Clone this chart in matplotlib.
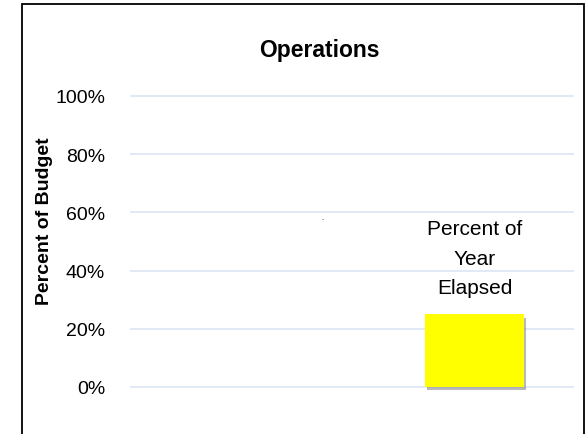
import matplotlib.pyplot as plt
import matplotlib.patheffects as pe
from matplotlib.patches import Rectangle
from matplotlib.ticker import PercentFormatter

categories = ["Budget Spent", "Percent of Year Elapsed"]
values = [0.0, 0.25]
y_ticks = [0, 0.2, 0.4, 0.6, 0.8, 1.0]
bar_label = "Percent of\nYear\nElapsed"

plt.rcParams['font.family'] = ['Liberation Sans', 'DejaVu Sans']

fig = plt.figure(figsize=(5.86, 4.35), dpi=100)
ax = fig.add_axes([131 / 586, 1 - 388 / 435, (573 - 131) / 586, (388 - 97) / 435])

x = [0, 1]
bars = ax.bar(x, values, width=0.653, color="#ffff00", zorder=3, clip_on=False)
for b in bars:
    b.set_path_effects([pe.SimplePatchShadow(offset=(1.5, -2.5), shadow_rgbFace="#7f7f7f", alpha=0.55),
                        pe.Normal()])

ax.set_xlim(-1.267, 1.65)
ax.set_ylim(0, 1)
ax.set_yticks(y_ticks)
ax.yaxis.set_major_formatter(PercentFormatter(1.0, decimals=0))
ax.tick_params(axis='y', length=0, pad=18.7, labelsize=14)
ax.set_xticks([])
for s in ax.spines.values():
    s.set_visible(False)
ax.grid(axis='y', color="#dae5f3", linewidth=1.2)
ax.set_axisbelow(True)
for gl in ax.get_ygridlines():
    gl.set_clip_on(False)

ax.text(1, 0.443, bar_label, ha='center', va='center', fontsize=15, linespacing=1.71)
ax.text(0, 0.57, "`", ha='center', va='center', fontsize=5)

fig.text(319 / 586, 1 - 50 / 435, "Operations", ha='center', va='center',
         fontsize=16.5, fontweight='bold')
fig.text(45 / 586, 1 - 221 / 435, "Percent of Budget", ha='center', va='center',
         rotation=90, fontsize=14, fontweight='bold')

fig.patches.append(Rectangle((22 / 586, -0.05), (584 - 22) / 586, 1.05 - 5 / 435,
                             transform=fig.transFigure, fill=False,
                             edgecolor='black', linewidth=1.3))

fig.savefig("out.png", dpi=100)
